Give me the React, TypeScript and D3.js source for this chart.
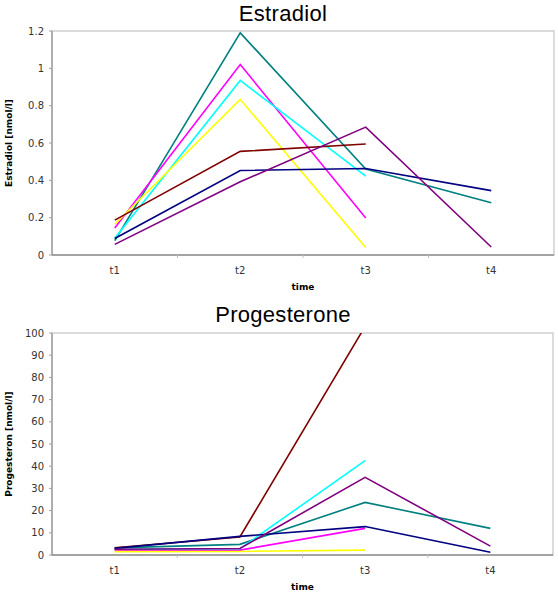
import React from "react";
import * as d3 from "d3";

const categories = ["t1", "t2", "t3", "t4"];
const seriesColors = ["#008080", "#FF00FF", "#00FFFF", "#FFFF00", "#800000", "#000080", "#800080"];

// Estradiol [nmol/l], null = missing
const estTeal = [0.077, 1.19, 0.46, 0.28];
const estMagenta = [0.145, 1.02, 0.198, null];
const estCyan = [0.09, 0.935, 0.423, null];
const estYellow = [0.165, 0.834, 0.04, null];
const estDarkRed = [0.187, 0.555, 0.595, null];
const estNavy = [0.088, 0.453, 0.463, 0.345];
const estPurple = [0.057, 0.392, 0.685, 0.043];

// Progesterone [nmol/l]
const proTeal = [3.2, 4.8, 23.7, 12];
const proMagenta = [2.2, 2.2, 12, null];
const proCyan = [2.6, 2.8, 42.5, null];
const proYellow = [1.5, 1.6, 2.2, null];
const proDarkRed = [3.3, 8.1, 103, null];
const proNavy = [3.0, 8.4, 12.8, 1.2];
const proPurple = [2.6, 2.9, 35, 4];

const estTicks = [0, 0.2, 0.4, 0.6, 0.8, 1, 1.2];
const proTicks = [0, 10, 20, 30, 40, 50, 60, 70, 80, 90, 100];

const estSeries = [estTeal, estMagenta, estCyan, estYellow, estDarkRed, estNavy, estPurple];
const proSeries = [proTeal, proMagenta, proCyan, proYellow, proDarkRed, proNavy, proPurple];

type PanelProps = {
  id: string;
  title: string;
  yLabel: string;
  series: (number | null)[][];
  ticks: number[];
  yMax: number;
  top: number;
  bottom: number;
  left: number;
  right: number;
  titleY: number;
};

function Panel(p: PanelProps) {
  const x = d3.scaleBand<string>().domain(categories).range([p.left, p.right]);
  const y = d3.scaleLinear().domain([0, p.yMax]).range([p.bottom, p.top]);
  const line = d3
    .line<number | null>()
    .defined((d) => d != null)
    .x((_, i) => (x(categories[i]) as number) + x.bandwidth() / 2)
    .y((d) => y(d as number));
  const cx = (p.left + p.right) / 2;
  const cy = (p.top + p.bottom) / 2;
  const font = "'DejaVu Sans', Verdana, sans-serif";
  return (
    <g>
      <defs>
        <clipPath id={p.id}>
          <rect x={p.left} y={p.top} width={p.right - p.left} height={p.bottom - p.top} />
        </clipPath>
      </defs>
      <text x={283} y={p.titleY} textAnchor="middle" fontFamily="'Liberation Sans', Arial, sans-serif" fontSize={22} letterSpacing={0.3} fill="#000">
        {p.title}
      </text>
      <rect x={p.left} y={p.top} width={p.right - p.left} height={p.bottom - p.top} fill="#fff" stroke="#d0d0d0" strokeWidth={1.5} />
      <line x1={p.left} x2={p.left} y1={p.top} y2={p.bottom} stroke="#a0a0a0" strokeWidth={1.5} />
      <line x1={p.left} x2={p.right} y1={p.bottom} y2={p.bottom} stroke="#909090" strokeWidth={1.5} />
      {p.ticks.map((t) => (
        <g key={t}>
          <line x1={p.left - 3} x2={p.left} y1={y(t)} y2={y(t)} stroke="#a0a0a0" />
          <text x={p.left - 8} y={y(t) + 3.5} textAnchor="end" fontFamily={font} fontSize={10} fill="#333">
            {String(t)}
          </text>
        </g>
      ))}
      {categories.map((c, i) => (
        <g key={c}>
          {i > 0 && <line x1={x(c)} x2={x(c)} y1={p.bottom} y2={p.bottom + 3} stroke="#c0c0c0" />}
          <text x={(x(c) as number) + x.bandwidth() / 2} y={p.bottom + 19} textAnchor="middle" fontFamily={font} fontSize={10} fill="#333">
            {c}
          </text>
        </g>
      ))}
      <text x={cx} y={p.bottom + 35} textAnchor="middle" fontFamily={font} fontSize={9} fontWeight="bold" fill="#000">
        time
      </text>
      <text transform={`translate(12,${cy}) rotate(-90)`} textAnchor="middle" fontFamily={font} fontSize={9} fontWeight="bold" fill="#000">
        {p.yLabel}
      </text>
      <g clipPath={`url(#${p.id})`}>
        {p.series.map((s, i) => (
          <path key={i} d={line(s) || ""} fill="none" stroke={seriesColors[i]} strokeWidth={1.6} />
        ))}
      </g>
    </g>
  );
}

export default function App() {
  return (
    <svg width={558} height={593} style={{ position: "absolute", left: 0, top: 0, background: "#fff" }}>
      <rect width={558} height={593} fill="#fff" />
      <Panel id="clipE" title="Estradiol" yLabel="Estradiol [nmol/l]" series={estSeries} ticks={estTicks} yMax={1.2} top={31} bottom={255} left={52} right={554} titleY={21} />
      <Panel id="clipP" title="Progesterone" yLabel="Progesteron [nmol/l]" series={proSeries} ticks={proTicks} yMax={100} top={333} bottom={555} left={52} right={553} titleY={322} />
    </svg>
  );
}
